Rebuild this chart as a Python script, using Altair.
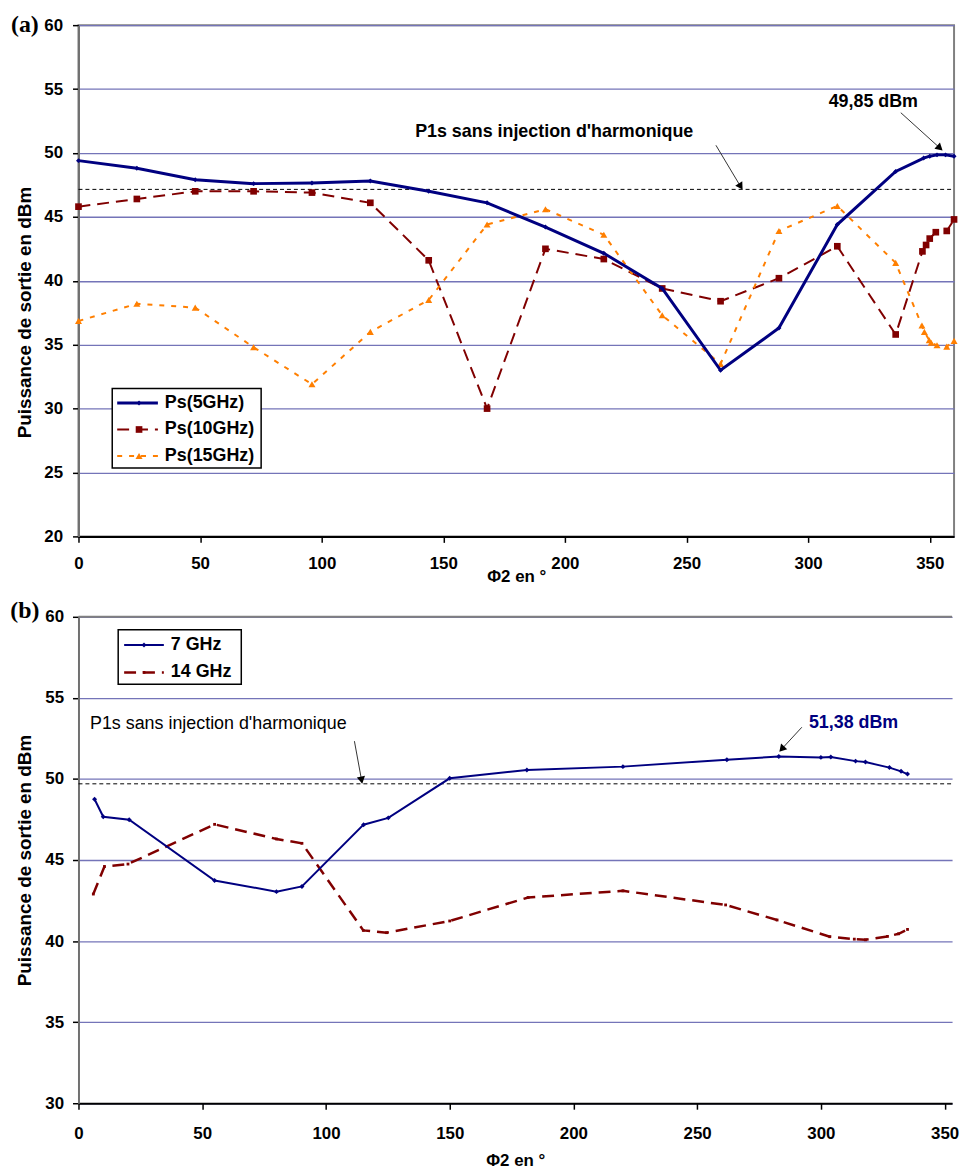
import altair as alt
import pandas as pd

# ---------------- Panel (a) data ----------------
phi_5 = [0, 24, 48, 72, 96, 120, 144, 168, 192, 216, 240, 264, 288, 312, 336, 347.5, 350, 353, 356.5, 360]
ps_5 = [49.4, 48.8, 47.9, 47.6, 47.65, 47.8, 47.0, 46.1, 44.2, 42.15, 39.4, 33.0, 36.3, 44.4, 48.55, 49.6, 49.75, 49.85, 49.85, 49.75]
phi_10 = [0, 24, 48, 72, 96, 120, 144, 168, 192, 216, 240, 264, 288, 312, 336, 347, 348.5, 350, 352.5, 357, 360]
ps_10 = [45.8, 46.4, 47.0, 47.0, 46.9, 46.1, 41.6, 30.0, 42.5, 41.7, 39.4, 38.4, 40.2, 42.7, 35.8, 42.3, 42.8, 43.3, 43.8, 43.9, 44.8]
phi_15 = [0, 24, 48, 72, 96, 120, 144, 168, 192, 216, 240, 264, 288, 312, 336, 346.8, 347.8, 349.8, 350.6, 353, 357, 360]
ps_15 = [36.85, 38.2, 37.9, 34.8, 31.9, 36.0, 38.5, 44.4, 45.6, 43.6, 37.3, 33.5, 43.9, 45.85, 41.4, 36.5, 36.0, 35.35, 35.15, 34.95, 34.85, 35.3]
names_a = ["Ps(5GHz)", "Ps(10GHz)", "Ps(15GHz)"]
p1s_a = 47.15

# ---------------- Panel (b) data ----------------
phi_7 = [6.5, 10, 20.5, 55, 80, 90.3, 115.2, 125.2, 150, 181.2, 220, 262, 283, 300, 304, 314, 318, 327.7, 332.4, 335]
ps_7 = [48.75, 47.67, 47.48, 43.74, 43.05, 43.37, 47.18, 47.6, 50.04, 50.55, 50.76, 51.19, 51.38, 51.33, 51.36, 51.1, 51.04, 50.7, 50.47, 50.3]
phi_14 = [6, 10.5, 20, 55, 80, 90.3, 115.1, 124.5, 150, 181.7, 220, 261.5, 282.3, 303.6, 313.5, 318, 326.9, 331.4, 335]
ps_14 = [42.9, 44.6, 44.75, 47.2, 46.3, 46.03, 40.66, 40.52, 41.24, 42.69, 43.1, 42.23, 41.3, 40.27, 40.12, 40.08, 40.29, 40.45, 40.72]
names_b = ["7 GHz", "14 GHz"]
p1s_b = 49.7

ticks_x = [0, 50, 100, 150, 200, 250, 300, 350]
ticks_ya = [20, 25, 30, 35, 40, 45, 50, 55, 60]
ticks_yb = [30, 35, 40, 45, 50, 55, 60]

# annotations: text, x, y ; arrows: x0, y0, x1, y1, angle
ann_a_text = ["P1s sans injection d'harmonique", "49,85 dBm"]
ann_a_x = [195.6, 326.8]
ann_a_y = [51.6, 54.0]
arr_a_x0 = [262.1, 338.1]
arr_a_y0 = [50.6, 53.15]
arr_a_x1 = [272.0, 353.8]
arr_a_y1 = [47.45, 50.45]
arr_a_ang = [148, 132]

ann_b_text = ["P1s sans injection d'harmonique", "51,38 dBm"]
ann_b_x = [56.5, 313.2]
ann_b_y = [53.4, 53.45]
arr_b_x0 = [111.5, 292.3]
arr_b_y0 = [52.33, 53.19]
arr_b_x1 = [114.3, 284.5]
arr_b_y1 = [50.0, 51.9]
arr_b_ang = [169, 222]

FONT = "Liberation Sans"
NAVY = "#000080"
MAROON = "#800000"
ORANGE = "#ff7f00"
GRID = "#7474b8"

WA, HA = 882, 515
WB, HB = 880, 490


def x_axis(title_y, label_pad):
    return alt.Axis(values=ticks_x, title="Φ2 en °", labelFont=FONT, labelFontSize=17,
                    labelFontWeight="bold", labelColor="black", labelPadding=label_pad,
                    labelFlush=False, tickColor="black", tickSize=6, tickWidth=1.5,
                    domainColor="black", domainWidth=2, grid=False, titleFont=FONT,
                    titleFontSize=17, titleFontWeight="bold", titleColor="black",
                    titleY=title_y, titleBaseline="middle")


def y_axis(vals, label_pad, title_pad, title_y=None):
    kw = dict(values=vals, title="Puissance de sortie en dBm", labelFont=FONT,
              labelFontSize=17, labelFontWeight="bold", labelColor="black",
              labelPadding=label_pad, labelFlush=False, tickColor="black", tickSize=6,
              tickWidth=1.5, domainColor="#707070", domainWidth=2, grid=True,
              gridColor=GRID, gridWidth=1.3, titleFont=FONT, titleFontSize=19,
              titleFontWeight="bold", titleColor="black", titlePadding=title_pad)
    if title_y is not None:
        kw["titleY"] = title_y
    return alt.Axis(**kw)


def make_panel(series, xs, ys, xax, yax, p1s, ann, arr, ann_styles, legend, lab, lab_xy, W, H, top_rule):
    def X(f="phi"):
        return alt.X(f"{f}:Q", scale=xs, axis=xax)

    def Y(f="ps"):
        return alt.Y(f"{f}:Q", scale=ys, axis=yax)

    layers = []
    ref = pd.DataFrame({"phi0": [xs.domain[0]], "phi1": [xs.domain[1]], "ps": [p1s]})
    layers.append(alt.Chart(ref).mark_rule(color="black", strokeWidth=1, strokeDash=[4, 3]).encode(
        x=X("phi0"), x2="phi1", y=Y()))
    for (phi, ps, color, dash, width, shape, size) in series:
        df = pd.DataFrame({"phi": phi, "ps": ps})
        base = alt.Chart(df).encode(x=X(), y=Y())
        lk = dict(color=color, strokeWidth=width)
        if dash:
            lk["strokeDash"] = dash
        layers.append(base.mark_line(**lk))
        layers.append(base.mark_point(shape=shape, size=size, filled=True, color=color, opacity=1))
    ax_, ay_, txt = ann
    x0, y0, x1, y1, ang = arr
    for i in range(len(txt)):
        adf = pd.DataFrame({"phi": [x0[i]], "ps": [y0[i]], "phi2": [x1[i]], "ps2": [y1[i]]})
        layers.append(alt.Chart(adf).mark_rule(color="#333333", strokeWidth=1).encode(
            x=X(), y=Y(), x2="phi2", y2="ps2"))
        hdf = pd.DataFrame({"phi": [x1[i]], "ps": [y1[i]]})
        layers.append(alt.Chart(hdf).mark_point(shape="triangle", filled=True, color="black",
                                                 size=70, angle=ang[i], opacity=1).encode(x=X(), y=Y()))
        tdf = pd.DataFrame({"phi": [ax_[i]], "ps": [ay_[i]], "t": [txt[i]]})
        st = ann_styles[i]
        layers.append(alt.Chart(tdf).mark_text(font=FONT, fontSize=st[0], fontWeight=st[1], color=st[2],
                                                align="center", baseline="middle").encode(
            x=X(), y=Y(), text="t:N"))
    bx0, bx1, by0, by1, lx0, lx1, mx, tx0, ys_, items = legend
    box = pd.DataFrame({"a": [0]})
    layers.append(alt.Chart(box).mark_rect(fill="white", stroke="black", strokeWidth=1.5).encode(
        x=alt.value(bx0), x2=alt.value(bx1), y=alt.value(by0), y2=alt.value(by1)))
    for (name, color, dash, width, shape, size), yy in zip(items, ys_):
        ldf = pd.DataFrame({"name": [name]})
        rk = dict(color=color, strokeWidth=width)
        if dash:
            rk["strokeDash"] = dash
        layers.append(alt.Chart(ldf).mark_rule(**rk).encode(
            x=alt.value(lx0), x2=alt.value(lx1), y=alt.value(yy)))
        layers.append(alt.Chart(ldf).mark_point(shape=shape, size=size, filled=True, color=color, opacity=1).encode(
            x=alt.value(mx), y=alt.value(yy)))
        layers.append(alt.Chart(ldf).mark_text(font=FONT, fontSize=18, fontWeight="bold", color="black",
                                               align="left", baseline="middle").encode(
            x=alt.value(tx0), y=alt.value(yy), text="name:N"))
    layers.append(alt.Chart(pd.DataFrame({"l": [lab]})).mark_text(
        font="Liberation Serif", fontSize=24, fontWeight="bold", color="black", align="center",
        baseline="middle").encode(x=alt.value(lab_xy[0]), y=alt.value(lab_xy[1]), text="l:N"))
    if top_rule:
        layers.append(alt.Chart(pd.DataFrame({"a": [0]})).mark_rule(color="#808080", strokeWidth=2).encode(
            x=alt.value(0), x2=alt.value(W), y=alt.value(0)))
    return alt.layer(*layers).properties(width=W, height=H)


xs_a = alt.Scale(domain=[0, 360], nice=False, zero=False)
ys_a = alt.Scale(domain=[20, 60], nice=False, zero=False)
xs_b = alt.Scale(domain=[0, 353], nice=False, zero=False)
ys_b = alt.Scale(domain=[30, 60], nice=False, zero=False)

series_a = [
    (phi_10, ps_10, MAROON, [12, 7], 2, "square", 45),
    (phi_15, ps_15, ORANGE, [5, 7], 2, "triangle-up", 50),
    (phi_5, ps_5, NAVY, None, 3, "diamond", 25),
]
legend_a = (34, 184, 366, 446, 39, 80, 61, 87, [380.7, 407.3, 434],
            [(names_a[0], NAVY, None, 3, "diamond", 25),
             (names_a[1], MAROON, [12, 7], 2, "square", 45),
             (names_a[2], ORANGE, [5, 7], 2, "triangle-up", 50)])
panel_a = make_panel(series_a, xs_a, ys_a, x_axis(40, 13), y_axis(ticks_ya, 10, 9, 289), p1s_a,
                     (ann_a_x, ann_a_y, ann_a_text),
                     (arr_a_x0, arr_a_y0, arr_a_x1, arr_a_y1, arr_a_ang),
                     [(18, "bold", "black"), (18, "bold", "black")],
                     legend_a, "(a)", (-54, 0), WA, HA, False)

series_b = [
    (phi_14, ps_14, MAROON, [12, 7], 2.5, "square", 8),
    (phi_7, ps_7, NAVY, None, 2, "diamond", 25),
]
legend_b = (40, 164, 13, 68, 46, 86, 66, 93, [28.3, 56],
            [(names_b[0], NAVY, None, 2, "diamond", 25),
             (names_b[1], MAROON, [12, 7], 2.5, "square", 8)])
panel_b = make_panel(series_b, xs_b, ys_b, x_axis(58, 17), y_axis(ticks_yb, 9, 10), p1s_b,
                     (ann_b_x, ann_b_y, ann_b_text),
                     (arr_b_x0, arr_b_y0, arr_b_x1, arr_b_y1, arr_b_ang),
                     [(18, "normal", "black"), (18, "bold", NAVY)],
                     legend_b, "(b)", (-54, -6), WB, HB, True)
panel_b = panel_b.properties(view=alt.ViewBackground(stroke=None))

chart = alt.vconcat(panel_a, panel_b, spacing=14).properties(
    padding={"left": 2, "top": 0, "right": 0, "bottom": 0}
).configure_view(stroke="#808080", strokeWidth=2)

chart.save("out.html", embed_options={"renderer": "svg", "actions": False})
